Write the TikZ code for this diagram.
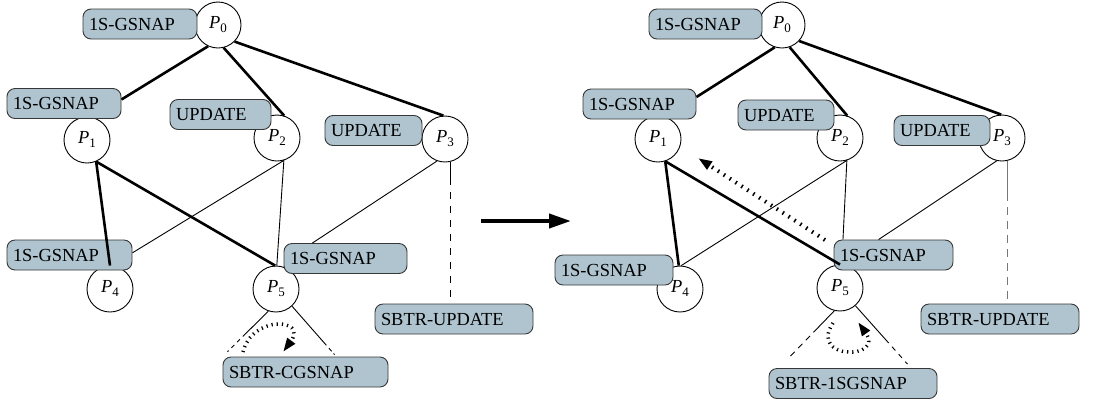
\documentclass[tikz,border=0pt]{standalone}
\usepackage{fontspec}
\setmainfont{Liberation Serif}
\usetikzlibrary{arrows.meta,calc}
\definecolor{boxfill}{RGB}{175,196,207}
\definecolor{boxedge}{RGB}{55,55,55}
\definecolor{tailgray}{RGB}{120,120,120}
% process label P_i
\newcommand\pname[1]{\textit{P}\raisebox{-4pt}{\fontsize{13}{13}\selectfont #1}}
\begin{document}
\begin{tikzpicture}[x=1pt,y=-1pt,
  font=\fontsize{18.4}{20}\selectfont,
  proc/.style={circle,draw,fill=white,line width=0.9pt,minimum size=46pt,
    inner sep=0pt,text height=9pt,text depth=3pt},
  tag/.style={draw=boxedge,fill=boxfill,line width=0.9pt,rounded corners=8pt,
    minimum height=30pt,inner xsep=6pt,inner ysep=0pt,align=left,
    text height=12.5pt,text depth=0pt,text width=#1},
  heavy/.style={line width=2.6pt},
  light/.style={line width=0.9pt},
  ticks/.style={line width=3.5pt,dash pattern=on 1.2pt off 4pt,
    -{Triangle[length=14pt,width=9pt]}},
  bigarrow/.style={line width=4pt,-{Triangle[length=22pt,width=14pt]}}]
\useasboundingbox (0,0) rectangle (1102,400);

% ---------------- before ----------------
\node[proc] (a0) at (218,25) {\pname{0}};
\node[proc] (a1) at (87,140) {\pname{1}};
\node[proc] (a2) at (277,138) {\pname{2}};
\node[proc] (a3) at (445,139) {\pname{3}};
\node[proc] (a4) at (110,289) {\pname{4}};
\node[proc] (a5) at (276,289) {\pname{5}};

\node[tag=102pt] (ab0) at (140,24) {1S-GSNAP};
\node[tag=102pt] (ab1) at (64,103.5) {1S-GSNAP};
\node[tag=89pt] (ab2) at (220.5,114.5) {UPDATE};
\node[tag=85pt] (ab3) at (373.5,130.5) {UPDATE};
\node[tag=113pt] (ab4) at (69.5,255) {1S-GSNAP};
\node[tag=111pt] (ab5) at (345.5,258.5) {1S-GSNAP};
\node[tag=146pt] (abu) at (454,319) {SBTR-UPDATE};
\node[tag=153pt] (abc) at (305.5,372) {SBTR-CGSNAP};

\draw[heavy] (a0.245.6) -- (ab1.4.4);
\draw[heavy] (a0.284.6) -- (a2.72.3);
\draw[heavy] (a0.315) -- (a3.94.8);
\draw[heavy] (a1.293) -- (a4.90);
\draw[heavy] (a1.293) -- (a5.92);
\draw[light] (a2.287) -- (ab4.2.7);
\draw[light] (a2.287) -- (a5.88);
\draw[light] (a3.250) -- (ab5.155.2);
\draw[light,dash pattern=on 23pt off 7pt on 7pt off 7pt on 7pt off 7pt on 7pt off 7pt on 7pt off 7pt on 7pt off 7pt on 7pt off 7pt on 7pt off 7pt on 7pt off 7pt on 7pt off 7pt on 7pt off 7pt on 200pt]
  (a3.284.6) -- (a3.284.6 |- abu.north);
\draw[light,dash pattern=on 36pt off 4pt on 4pt off 4pt on 4pt off 4pt on 4pt off 4pt]
  (a5.251) -- ($(abc.north west)+(5,-5)$);
\draw[light,dash pattern=on 52pt off 4pt on 4pt off 3pt on 3pt off 3pt]
  (a5.313) -- ($(abc.north)+(29,-2)$);

\coordinate (as) at (243,352);
\coordinate (ae) at (283,352);
\draw[ticks] (as) .. controls (252,315) and (308,318) .. (ae);

% ---------------- transition ----------------
\coordinate (m1) at (481,221);
\coordinate (m2) at (571,221);
\draw[bigarrow] (m1) -- (m2);

% ---------------- after ----------------
\node[proc] (b0) at (782,25) {\pname{0}};
\node[proc] (b1) at (658,139) {\pname{1}};
\node[proc] (b2) at (840,138) {\pname{2}};
\node[proc] (b3) at (1002,138) {\pname{3}};
\node[proc] (b4) at (680,289) {\pname{4}};
\node[proc] (b5) at (840,288) {\pname{5}};

\node[tag=101pt] (bb0) at (705.5,24) {1S-GSNAP};
\node[tag=101pt] (bb1) at (639.5,104) {1S-GSNAP};
\node[tag=84pt] (bb2) at (786,115) {UPDATE};
\node[tag=84pt] (bb3) at (942,130.5) {UPDATE};
\node[tag=106pt] (bb4) at (614,270) {1S-GSNAP};
\node[tag=107pt] (bb5) at (893.5,255) {1S-GSNAP};
\node[tag=146pt] (bbu) at (1000,319) {SBTR-UPDATE};
\node[tag=156pt] (bbs) at (853,383.5) {SBTR-1SGSNAP};

\draw[heavy] (b0.252.4) -- (bb1.7.5);
\draw[heavy] (b0.289) -- (b2.72.3);
\draw[heavy] (b0.317) -- (b3.92.5);
\draw[heavy] (b1.288) -- (b4.93);
\draw[heavy] (b1.288) -- (b5.90);
\draw[light] (b2.287) -- (b4.87);
\draw[light] (b2.287) -- (bb5.163.5);
\draw[light] (b3.257) -- (bb5.134);
\draw[light,draw=tailgray,dash pattern=on 40pt off 6pt on 8pt off 6pt on 8pt off 6pt on 8pt off 6pt on 8pt off 6pt on 8pt off 6pt on 8pt off 6pt on 8pt off 6pt on 8pt off 6pt on 8pt off 6pt on 200pt]
  (b3.284.6) -- (b3.284.6 |- bbu.north);
\draw[light,dash pattern=on 30pt off 5pt on 6pt off 5pt on 6pt off 5pt on 6pt off 5pt]
  (b5.256) -- ($(bbs.north west)+(21,-11)$);
\draw[light,dash pattern=on 50pt off 5pt on 5pt off 5pt on 5pt off 5pt on 5pt off 5pt]
  (b5.311.6) -- ($(bbs.north east)+(-30,-4)$);

\coordinate (bs) at (833,323);
\coordinate (be) at (858,322);
\draw[ticks] (bs) .. controls (808,360) and (885,360) .. (be);

\coordinate (rs) at (825,240);
\coordinate (re) at (698,158);
\draw[ticks,line width=4pt,dash pattern=on 1.5pt off 5.5pt] (rs) -- (re);
\end{tikzpicture}
\end{document}
